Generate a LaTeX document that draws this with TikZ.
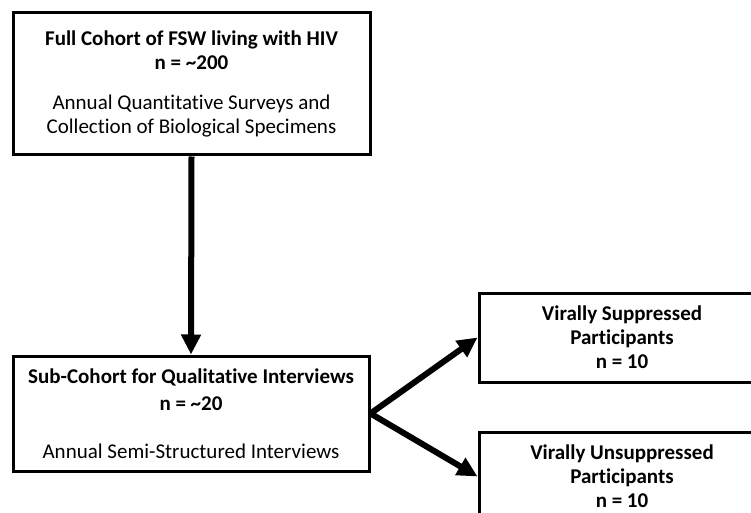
\documentclass[tikz,border=0pt]{standalone}
\usepackage{fontspec}
\setmainfont{Carlito}[Ligatures=NoCommon]
\usetikzlibrary{arrows.meta}

\begin{document}
\begin{tikzpicture}[x=1pt, y=-1pt,
    box/.style={draw, line width=3pt, align=center, inner sep=0pt,
      font=\fontsize{21}{24}\selectfont},
    flowarrow/.style={line width=6pt, -{Triangle[width=19pt, length=20pt]}}]

  % Rahmen des Bildes
  \useasboundingbox (0,0) rectangle (751,513);
  \clip (0,0) rectangle (751,513);

  % ================= linke Spalte =================
  \node[box, minimum width=357, minimum height=142] (cohort) at (191.5,84)
    {\textbf{Full Cohort of FSW living with HIV}\\
     \textbf{n = \textasciitilde200}\\[16pt]
     Annual Quantitative Surveys and\\
     Collection of Biological Specimens};

  \node[box, minimum width=356, minimum height=115] (subcohort) at (191,413.5)
    {\textbf{Sub-Cohort for Qualitative Interviews}\\[3pt]
     \textbf{n = \textasciitilde20}\\[24pt]
     Annual Semi-Structured Interviews};

  % ================= rechte Spalte =================
  \node[box, minimum width=286, minimum height=89] (suppressed) at (622,337.5)
    {\textbf{Virally Suppressed}\\ \textbf{Participants}\\ \textbf{n = 10}};

  \node[box, minimum width=286, minimum height=89] (unsuppressed) at (622,476.5)
    {\textbf{Virally Unsuppressed}\\ \textbf{Participants}\\ \textbf{n = 10}};

  % Pfeile
  \draw[flowarrow] (cohort.south) -- (subcohort.north);
  \coordinate (split) at (subcohort.east);
  \draw[flowarrow] (split) -- (suppressed.west);
  \draw[flowarrow] (split) -- (unsuppressed.west);

\end{tikzpicture}
\end{document}
